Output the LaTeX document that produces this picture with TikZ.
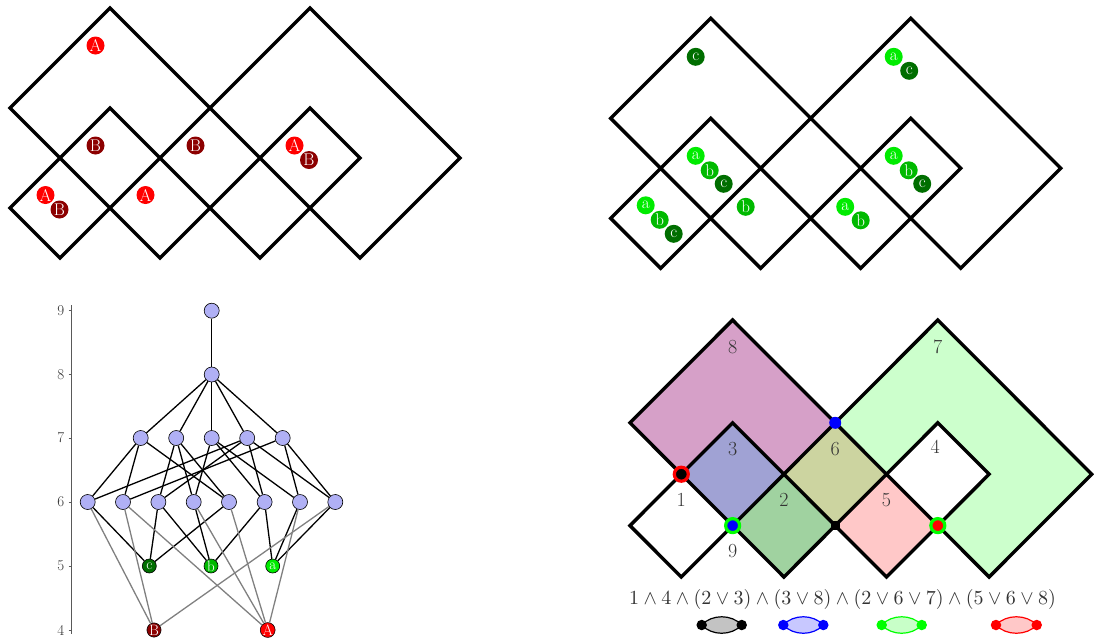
\documentclass[tikz,border=0pt]{standalone}
\usepackage{fontspec}
\usepackage{graphicx}
\definecolor{cA}{RGB}{255,0,0}
\definecolor{cB}{RGB}{140,0,0}
\definecolor{ca}{RGB}{0,235,0}
\definecolor{cb}{RGB}{0,185,0}
\definecolor{cc}{RGB}{0,110,0}
\definecolor{lav}{RGB}{176,176,245}
\definecolor{r8}{RGB}{214,160,200}
\definecolor{r3}{RGB}{160,162,212}
\definecolor{r6}{RGB}{204,212,160}
\definecolor{r2}{RGB}{160,210,160}
\definecolor{r5}{RGB}{255,200,200}
\definecolor{r7}{RGB}{204,255,204}
\definecolor{lgray}{RGB}{195,195,195}
\definecolor{lblue}{RGB}{200,200,255}
\definecolor{lgreen}{RGB}{200,255,200}
\definecolor{lred}{RGB}{255,200,200}
\definecolor{gr}{RGB}{0,255,0}
\begin{document}
\begin{tikzpicture}[x=1pt,y=-1pt,
  knot/.style={line width=3.4pt, line join=miter},
  mk/.style={circle, inner sep=0pt, minimum size=18pt, text=white, font=\fontsize{17}{17}\selectfont},
  gnode/.style={circle, draw=black, line width=0.6pt, fill=lav, minimum size=15pt, inner sep=0pt},
  lnode/.style={circle, draw=black, line width=0.6pt, minimum size=14pt, inner sep=0pt, text=white, font=\fontsize{15}{15}\selectfont},
  bedge/.style={line width=1.3pt, black},
  gedge/.style={line width=1.3pt, gray},
  rlab/.style={font=\fontsize{20}{20}\selectfont, text=black!80, inner sep=0pt},
  axlab/.style={font=\fontsize{15}{15}\selectfont, text=black!80, inner sep=0pt, anchor=east},
  ring/.style={circle, line width=3.2pt, minimum size=14pt, inner sep=0pt},
  ldot/.style={circle, minimum size=10.5pt, inner sep=0pt},
  lens/.style={line width=1.2pt},
]
\useasboundingbox (0,0) rectangle (1094,641);

% ---------- top-left panel ----------
\begin{scope}[shift={(10,8)}, x=50pt, y=-50pt]
\draw[knot] (0,2)--(2,0)--(7,5)--(9,3)--(6,0)--(1,5)--(0,4)--(2,2)--(5,5)--(7,3)--(6,2)--(3,5)--cycle;
\node[mk, fill=cA] (tl8A) at (1.71,0.75) {A};
\node[mk, fill=cB] (tl3B) at (1.71,2.75) {B};
\node[mk, fill=cB] (tl6B) at (3.71,2.75) {B};
\node[mk, fill=cA] (tl4A) at (5.69,2.75) {A};
\node[mk, fill=cB] (tl4B) at (5.98,3.04) {B};
\node[mk, fill=cA] (tl1A) at (0.71,3.74) {A};
\node[mk, fill=cB] (tl1B) at (0.99,4.03) {B};
\node[mk, fill=cA] (tl2A) at (2.71,3.74) {A};
\end{scope}

% ---------- top-right panel ----------
\begin{scope}[shift={(610.7,18.3)}, x=50pt, y=-50pt]
\draw[knot] (0,2)--(2,0)--(7,5)--(9,3)--(6,0)--(1,5)--(0,4)--(2,2)--(5,5)--(7,3)--(6,2)--(3,5)--cycle;
\node[mk, fill=cc] (tr8c) at (1.7,0.77) {c};
\node[mk, fill=ca] (tr7a) at (5.66,0.77) {a};
\node[mk, fill=cc] (tr7c) at (5.97,1.05) {c};
\node[mk, fill=ca] (tr3a) at (1.7,2.75) {a};
\node[mk, fill=cb] (tr3b) at (1.98,3.04) {b};
\node[mk, fill=cc] (tr3c) at (2.26,3.31) {c};
\node[mk, fill=ca] (tr4a) at (5.66,2.75) {a};
\node[mk, fill=cb] (tr4b) at (5.96,3.04) {b};
\node[mk, fill=cc] (tr4c) at (6.23,3.31) {c};
\node[mk, fill=ca] (tr1a) at (0.7,3.74) {a};
\node[mk, fill=cb] (tr1b) at (0.98,4.03) {b};
\node[mk, fill=cc] (tr1c) at (1.26,4.31) {c};
\node[mk, fill=cb] (tr2b) at (2.7,3.77) {b};
\node[mk, fill=ca] (tr5a) at (4.69,3.77) {a};
\node[mk, fill=cb] (tr5b) at (5.0,4.04) {b};
\end{scope}

% ---------- bottom-right panel ----------
\begin{scope}[shift={(630,320)}, x=51.3pt, y=-51.4pt]
\fill[r8] (0,2)--(2,0)--(4,2)--(3,3)--(2,2)--(1,3)--cycle;
\fill[r3] (1,3)--(2,2)--(3,3)--(2,4)--cycle;
\fill[r6] (3,3)--(4,2)--(5,3)--(4,4)--cycle;
\fill[r2] (2,4)--(3,3)--(4,4)--(3,5)--cycle;
\fill[r5] (4,4)--(5,3)--(6,4)--(5,5)--cycle;
\fill[r7] (4,2)--(6,0)--(9,3)--(7,5)--(6,4)--(7,3)--(6,2)--(5,3)--cycle;
\draw[knot] (0,2)--(2,0)--(7,5)--(9,3)--(6,0)--(1,5)--(0,4)--(2,2)--(5,5)--(7,3)--(6,2)--(3,5)--cycle;
\node[rlab] (l8) at (2,0.52) {8};
\node[rlab] (l7) at (6,0.52) {7};
\node[rlab] (l3) at (2,2.52) {3};
\node[rlab] (l6) at (4,2.52) {6};
\node[rlab] (l4) at (5.95,2.47) {4};
\node[rlab] (l1) at (1,3.5) {1};
\node[rlab] (l2) at (3,3.5) {2};
\node[rlab] (l5) at (5,3.5) {5};
\node[rlab] (l9) at (2,4.5) {9};
\node[ring, draw=red, fill=black] (m1) at (1,3) {};
\node[circle, fill=blue, minimum size=12pt, inner sep=0pt] (m2) at (4,2) {};
\node[ring, draw=gr, fill=blue] (m3) at (2,4) {};
\node[fill=black, minimum size=9pt, inner sep=0pt] (m4) at (4,4) {};
\node[ring, draw=gr, fill=red] (m5) at (6,4) {};
\end{scope}

\node[text=black!80, inner sep=0pt] (formula) at (842.5,599) {\scalebox{2}{$1\wedge 4\wedge(2\vee 3)\wedge(3\vee 8)\wedge(2\vee 6\vee 7)\wedge(5\vee 6\vee 8)$}};

% legend
\coordinate (k1) at (701.7,625); \coordinate (k2) at (741.7,625);
\coordinate (u1) at (783.3,625); \coordinate (u2) at (823.3,625);
\coordinate (v1) at (881.7,625); \coordinate (v2) at (921.7,625);
\coordinate (w1) at (996,625);   \coordinate (w2) at (1036.7,625);
\draw[lens, draw=black, fill=lgray] (k1) .. controls +(10,-11) and +(-10,-11) .. (k2) .. controls +(-10,11) and +(10,11) .. (k1) -- cycle;
\draw[lens, draw=blue, fill=lblue] (u1) .. controls +(10,-11) and +(-10,-11) .. (u2) .. controls +(-10,11) and +(10,11) .. (u1) -- cycle;
\draw[lens, draw=gr, fill=lgreen] (v1) .. controls +(10,-11) and +(-10,-11) .. (v2) .. controls +(-10,11) and +(10,11) .. (v1) -- cycle;
\draw[lens, draw=red, fill=lred] (w1) .. controls +(10,-11) and +(-10,-11) .. (w2) .. controls +(-10,11) and +(10,11) .. (w1) -- cycle;
\node[ldot, fill=black] (k1d) at (k1) {};
\node[ldot, fill=black] (k2d) at (k2) {};
\node[ldot, fill=blue] (u1d) at (u1) {};
\node[ldot, fill=blue] (u2d) at (u2) {};
\node[ldot, fill=gr] (v1d) at (v1) {};
\node[ldot, fill=gr] (v2d) at (v2) {};
\node[ldot, fill=red] (w1d) at (w1) {};
\node[ldot, fill=red] (w2d) at (w2) {};

% ---------- bottom-left graph ----------
\draw[line width=0.9pt, black!65] (71.7,305) -- (71.7,634);
\foreach \lv/\yy in {9/310.7,8/374.5,7/438,6/502,5/566,4/630} {
  \draw[line width=0.9pt, black!65] (68.5,\yy) -- (71.7,\yy);
  \node[axlab] (ax\lv) at (64.5,\yy) {\lv};
}
\node[gnode] (n9) at (211.7,310.7) {};
\node[gnode] (n8) at (211.7,374.5) {};
\foreach \i/\xx in {1/140.7,2/176.2,3/211.7,4/247.2,5/282.7}
  \node[gnode] (t\i) at (\xx,438) {};
\foreach \i/\xx in {1/87.7,2/123,3/158.4,4/193.7,5/229,6/264.6,7/300,8/335.3}
  \node[gnode] (s\i) at (\xx,502) {};
\node[lnode, fill=cc] (gc) at (149.3,566) {c};
\node[lnode, fill=cb] (gb) at (211,566) {b};
\node[lnode, fill=ca] (ga) at (272.7,566) {a};
\node[lnode, fill=cB] (gB) at (154,630) {B};
\node[lnode, fill=cA] (gA) at (267.7,630) {A};

\draw[bedge] (n9) -- (n8);
\foreach \i in {1,...,5} \draw[bedge] (n8) -- (t\i);
\foreach \a/\b in {t1/s1,t1/s2,t1/s5,t2/s3,t2/s4,t2/s5,t3/s4,t3/s6,t3/s7,t4/s1,t4/s3,t4/s6,t4/s8,t5/s2,t5/s7,t5/s8,
                   s1/gc,s3/gc,s5/gc,s3/gb,s4/gb,s6/gb,s6/ga,s7/ga,s8/ga}
  \draw[bedge] (\a) -- (\b);
\foreach \a/\b in {s1/gB,s2/gB,s8/gB,s2/gA,s4/gA,s5/gA,s7/gA}
  \draw[gedge] (\a) -- (\b);
\end{tikzpicture}
\end{document}
